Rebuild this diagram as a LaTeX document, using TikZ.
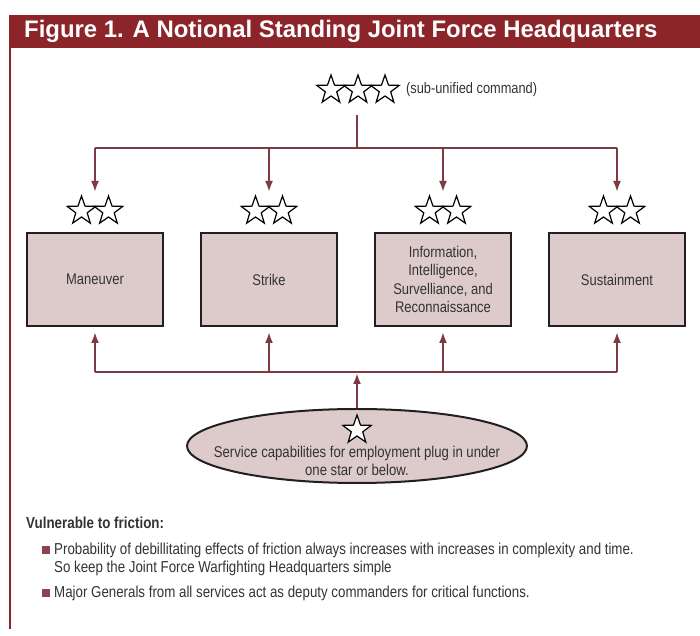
\documentclass[tikz,border=0pt]{standalone}
\usepackage{fontspec}
\setmainfont{Liberation Sans}[FakeStretch=0.84]
\newfontfamily\titlefont{Liberation Sans}
\usetikzlibrary{shapes.geometric,arrows.meta}
\definecolor{bannerred}{HTML}{8C2529}
\definecolor{linkred}{HTML}{7D3A45}
\definecolor{boxfill}{HTML}{DDCBCB}
\definecolor{boxline}{HTML}{231F20}
\definecolor{bulletred}{HTML}{8B4452}
\definecolor{textgray}{HTML}{333333}
\tikzset{
  box/.style={draw=boxline,fill=boxfill,line width=2bp,rectangle,minimum width=136bp,minimum height=93bp,align=center,text=textgray,font=\fontsize{15.5}{18.5}\selectfont},
  rank/.style={star,star points=5,star point ratio=2.5,minimum size=30bp,inner sep=0pt,draw=black,fill=white,line width=1.2bp},
  link/.style={draw=linkred,line width=2bp},
  bulletsq/.style={fill=bulletred,rectangle,minimum size=8bp,inner sep=0pt},
  plain/.style={text=textgray,inner sep=0pt,font=\fontsize{15.9}{18}\selectfont},
}
\begin{document}
\begin{tikzpicture}[>={Latex[length=11bp,width=8bp]},line join=miter]
\useasboundingbox (0bp,0bp) rectangle (700bp,636bp);
%% frame
\fill[bannerred] (9bp,588bp) rectangle (700bp,621bp);
\draw[bannerred,line width=1.5bp] (10bp,588bp) -- (10bp,7bp);
\node (title) at (24bp,604.5bp) [anchor=west,text=white,inner sep=0pt,font=\titlefont\bfseries\fontsize{24}{28}\selectfont] {Figure 1. A Notional Standing Joint Force Headquarters};
%% top command
\node (hq_s1) at (331bp,546bp) [rank] {};
\node (hq_s2) at (358bp,546bp) [rank] {};
\node (hq_s3) at (385bp,546bp) [rank] {};
\node (hq_label) at (406bp,546bp) [plain,anchor=west,font=\fontsize{15.3}{18}\selectfont] {(sub-unified command)};
\coordinate (hq_foot) at (357bp,521bp);
\coordinate (hq_bus) at (357bp,488bp);
%% functional boxes
\node (maneuver) at (95bp,356.5bp) [box] {Maneuver};
\node (strike) at (269bp,356.5bp) [box] {Strike};
\node (isr) at (443bp,356.5bp) [box] {Information,\\Intelligence,\\Survelliance, and\\Reconnaissance};
\node (sustain) at (617bp,356.5bp) [box] {Sustainment};
\node (maneuver_s1) at (81.5bp,425bp) [rank] {};
\node (maneuver_s2) at (108.5bp,425bp) [rank] {};
\node (strike_s1) at (255.5bp,425bp) [rank] {};
\node (strike_s2) at (282.5bp,425bp) [rank] {};
\node (isr_s1) at (429.5bp,425bp) [rank] {};
\node (isr_s2) at (456.5bp,425bp) [rank] {};
\node (sustain_s1) at (603.5bp,425bp) [rank] {};
\node (sustain_s2) at (630.5bp,425bp) [rank] {};
\coordinate (maneuver_in) at (95bp,488bp);
\coordinate (strike_in) at (269bp,488bp);
\coordinate (isr_in) at (443bp,488bp);
\coordinate (sustain_in) at (617bp,488bp);
\coordinate (maneuver_out) at (95bp,264bp);
\coordinate (strike_out) at (269bp,264bp);
\coordinate (isr_out) at (443bp,264bp);
\coordinate (sustain_out) at (617bp,264bp);
\coordinate (svc_bus) at (357bp,263bp);
%% service pool
\node (service) at (357bp,190bp) [ellipse,draw=boxline,fill=boxfill,line width=2bp,minimum width=340bp,minimum height=74bp] {};
\node (service_s) at (357bp,206bp) [rank] {};
\node (service_text) at (357bp,175bp) [plain,align=center,font=\fontsize{15.7}{18}\selectfont] {Service capabilities for employment plug in under\\one star or below.};
%% links
\draw [link] (hq_foot) -- (hq_bus);
\draw [link] (maneuver_in) -- (sustain_in);
\draw [link,->] (maneuver_in) -- ([yshift=40bp]maneuver.north);
\draw [link,->] (strike_in) -- ([yshift=40bp]strike.north);
\draw [link,->] (isr_in) -- ([yshift=40bp]isr.north);
\draw [link,->] (sustain_in) -- ([yshift=40bp]sustain.north);
\draw [link] (maneuver_out) -- (sustain_out);
\draw [link,->] (maneuver_out) -- ([yshift=-5bp]maneuver.south);
\draw [link,->] (strike_out) -- ([yshift=-5bp]strike.south);
\draw [link,->] (isr_out) -- ([yshift=-5bp]isr.south);
\draw [link,->] (sustain_out) -- ([yshift=-5bp]sustain.south);
\draw [link,->] (service.north) -- (svc_bus);
%% notes
\node (vuln) at (26bp,113bp) [plain,anchor=west,font=\bfseries\fontsize{16}{18}\selectfont] {Vulnerable to friction:};
\node (bullet1) at (46bp,86bp) [bulletsq] {};
\node (item1) at (54bp,77bp) [plain,anchor=west,align=left] {Probability of debillitating effects of friction always increases with increases in complexity and time.\\So keep the Joint Force Warfighting Headquarters simple};
\node (bullet2) at (46bp,43bp) [bulletsq] {};
\node (item2) at (54bp,43bp) [plain,anchor=west] {Major Generals from all services act as deputy commanders for critical functions.};
%
\end{tikzpicture}
\end{document}
